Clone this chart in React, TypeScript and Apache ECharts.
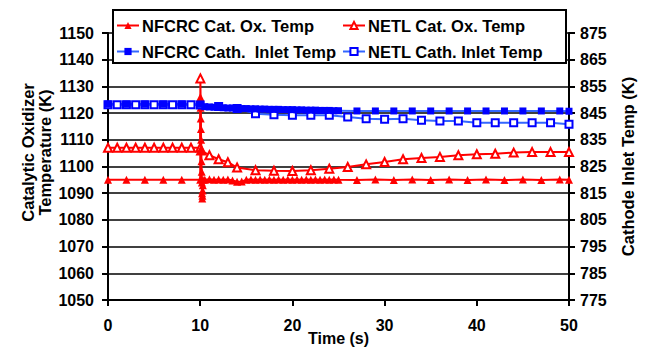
import React, { useEffect, useRef } from "react";
import * as echarts from "echarts";

const FONT = '"Liberation Sans", Arial, Helvetica, sans-serif';

// Tick settings (left: catalytic oxidizer, right: cathode inlet)
const timeTicks = { min: 0, max: 50, interval: 10 };
const catOxTicks = { min: 1050, max: 1150, interval: 10 };
const cathTicks = { min: 775, max: 875, interval: 10 };

const seriesNames = [
  "NFCRC Cat. Ox. Temp",
  "NETL Cat. Ox. Temp",
  "NFCRC Cath.  Inlet Temp",
  "NETL Cath. Inlet Temp",
];

// NFCRC catalytic oxidizer temperature [time s, K]
const nfcrcCatOx: [number, number][] = [
  [0, 1095], [2, 1095], [4, 1095], [6, 1095], [8, 1095], [10, 1095],
  [10.02, 1126], [10.04, 1122], [10.06, 1118], [10.08, 1114], [10.1, 1110],
  [10.12, 1106], [10.14, 1102], [10.16, 1098], [10.18, 1094], [10.2, 1090],
  [10.22, 1088], [10.24, 1089], [10.26, 1091], [10.28, 1093], [10.3, 1095],
  [10.5, 1095], [11, 1095.2], [11.5, 1095], [12, 1095.1], [12.5, 1095],
  [13, 1095.1], [13.5, 1094.8], [14, 1094.3], [14.5, 1094.4], [15, 1095],
  [15.5, 1095.1], [16, 1095], [16.5, 1095.1], [17, 1095], [17.5, 1095.1],
  [18, 1095], [18.5, 1095.1], [19, 1095], [19.5, 1095.1], [20, 1095],
  [20.5, 1095.1], [21, 1095], [21.5, 1095.1], [22, 1095], [22.5, 1095.1],
  [23, 1095], [23.5, 1095.1], [24, 1095], [24.5, 1095.1], [25, 1095],
  [27, 1094.9], [29, 1095.1], [31, 1094.9], [33, 1095.1], [35, 1094.9],
  [37, 1095.1], [39, 1094.9], [41, 1095.1], [43, 1094.9], [45, 1095.1],
  [47, 1094.9], [49, 1095.1], [50, 1095],
];

// NETL catalytic oxidizer temperature [time s, K]
const netlCatOx: [number, number][] = [
  [0, 1107], [1, 1107], [2, 1107], [3, 1107], [4, 1107], [5, 1107],
  [6, 1107], [7, 1107], [8, 1107], [9, 1107], [10, 1107], [10.02, 1133],
  [10.1, 1106], [11, 1104.2], [12, 1102.7], [13, 1101.6], [14, 1099.6],
  [16, 1098.6], [18, 1098.4], [20, 1098.3], [22, 1098.6], [24, 1099.2],
  [26, 1099.8], [28, 1100.8], [30, 1101.7], [32, 1102.7], [34, 1103.2],
  [36, 1103.6], [38, 1104.2], [40, 1104.6], [42, 1104.8], [44, 1105.2],
  [46, 1105.4], [48, 1105.4], [50, 1105.4],
];

// NFCRC cathode inlet temperature [time s, K]
const nfcrcCath: [number, number][] = [
  [0, 848.4], [2, 848.4], [4, 848.4], [6, 848.4], [8, 848.4], [10, 848.3],
  [10.5, 847.4], [11, 847.3], [11.5, 847.2], [12, 847.1], [12.5, 847.0],
  [13, 846.9], [13.5, 846.9], [14, 846.8], [14.5, 846.7], [15, 846.7],
  [15.5, 846.6], [16, 846.6], [16.5, 846.5], [17, 846.5], [17.5, 846.4],
  [18, 846.4], [18.5, 846.4], [19, 846.3], [19.5, 846.3], [20, 846.3],
  [20.5, 846.2], [21, 846.2], [21.5, 846.1], [22, 846.1], [22.5, 846.1],
  [23, 846.0], [23.5, 846.0], [24, 846.0], [24.5, 845.9], [25, 845.9],
  [27, 845.8], [29, 845.8], [31, 845.8], [33, 845.8], [35, 845.8],
  [37, 845.8], [39, 845.8], [41, 845.8], [43, 845.8], [45, 845.8],
  [47, 845.8], [49, 845.8], [50, 845.7],
];

// NETL cathode inlet temperature [time s, K]
const netlCath: [number, number][] = [
  [0, 848.1], [1, 848.1], [2, 848.1], [3, 848.1], [4, 848.1], [5, 848.1],
  [6, 848.1], [7, 848.1], [8, 848.1], [9, 848.1], [10, 848.0], [12, 847.5],
  [14, 846.7], [16, 844.8], [18, 844.4], [20, 844.2], [22, 844.2],
  [24, 844.2], [26, 843.5], [28, 842.9], [30, 842.7], [32, 842.9],
  [34, 842.3], [36, 842.0], [38, 842.0], [40, 841.4], [42, 841.4],
  [44, 841.4], [46, 841.4], [48, 841.4], [50, 840.8],
];

const RED = "#ff0000";
const BLUE_MARK = "#0000ff";
const BLUE_LINE = "#3366ff";

const tickText = { color: "#000", fontWeight: "bold" as const, fontSize: 16, fontFamily: FONT };
const titleText = { color: "#000", fontWeight: "bold" as const, fontSize: 16.5, fontFamily: FONT };

const plain = (v: number) => String(v);

export default function App() {
  const ref = useRef<HTMLDivElement>(null);

  useEffect(() => {
    if (!ref.current) return;
    const chart = echarts.init(ref.current, null, { renderer: "svg" });

    const axisLine = { show: true, lineStyle: { color: "#000", width: 2 } };
    const axisTick = { show: true, length: 6, lineStyle: { color: "#000", width: 2 } };

    const legendBase = {
      itemWidth: 22,
      itemHeight: 9,
      padding: 0,
      textStyle: { ...titleText, padding: [0, 0, 0, -2] },
      selectedMode: false,
    };

    chart.setOption({
      animation: false,
      backgroundColor: "#fff",
      grid: { left: 108, right: 80, top: 33, bottom: 48, outerBoundsMode: "none", containLabel: false },
      xAxis: {
        type: "value",
        ...timeTicks,
        name: "Time (s)",
        nameLocation: "middle",
        nameGap: 30,
        nameMoveOverlap: false,
        nameTextStyle: { ...titleText, fontSize: 16 },
        axisLine,
        axisTick,
        axisLabel: { ...tickText, margin: 17, formatter: plain },
        splitLine: { show: false },
      },
      yAxis: [
        {
          type: "value",
          ...catOxTicks,
          position: "left",
          name: "Catalytic Oxidizer\nTemperature (K)",
          nameLocation: "middle",
          nameRotate: 90,
          nameGap: 55,
          nameMoveOverlap: false,
          nameTextStyle: { ...titleText, lineHeight: 17, padding: [0, 0, 0, 28] },
          axisLine,
          axisTick,
          axisLabel: { ...tickText, margin: 14, formatter: plain },
          splitLine: { show: true, lineStyle: { color: "#000", width: 1.5 } },
        },
        {
          type: "value",
          ...cathTicks,
          position: "right",
          name: "Cathode Inlet Temp (K)",
          nameLocation: "middle",
          nameRotate: 90,
          nameGap: 50,
          nameMoveOverlap: false,
          nameTextStyle: titleText,
          axisLine,
          axisTick,
          axisLabel: { ...tickText, margin: 11, formatter: plain },
          splitLine: { show: false },
        },
      ],
      legend: [
        { ...legendBase, data: [seriesNames[0]], left: 116, top: 17 },
        { ...legendBase, data: [seriesNames[1]], left: 342, top: 17 },
        { ...legendBase, data: [seriesNames[2]], left: 116, top: 43 },
        { ...legendBase, data: [seriesNames[3]], left: 342, top: 43 },
      ],
      graphic: [
        {
          type: "rect",
          z: 3,
          shape: { x: 113, y: 10, width: 453, height: 53 },
          style: { fill: "#fff", stroke: "#000", lineWidth: 2 },
        },
      ],
      series: [
        {
          name: seriesNames[1],
          type: "line",
          yAxisIndex: 0,
          data: netlCatOx,
          symbol: "emptyTriangle",
          symbolSize: 8,
          showAllSymbol: true,
          lineStyle: { color: RED, width: 2 },
          itemStyle: { color: RED, borderColor: RED, borderWidth: 1.5 },
        },
        {
          name: seriesNames[0],
          type: "line",
          yAxisIndex: 0,
          data: nfcrcCatOx,
          symbol: "triangle",
          symbolSize: 8,
          showAllSymbol: true,
          lineStyle: { color: RED, width: 2 },
          itemStyle: { color: RED },
        },
        {
          name: seriesNames[3],
          type: "line",
          yAxisIndex: 1,
          data: netlCath,
          symbol: "emptyRect",
          symbolSize: 7,
          showAllSymbol: true,
          lineStyle: { color: BLUE_LINE, width: 2 },
          itemStyle: { color: BLUE_MARK, borderColor: BLUE_MARK, borderWidth: 1.5 },
        },
        {
          name: seriesNames[2],
          type: "line",
          yAxisIndex: 1,
          data: nfcrcCath,
          symbol: "rect",
          symbolSize: 7,
          showAllSymbol: true,
          lineStyle: { color: BLUE_LINE, width: 2 },
          itemStyle: { color: BLUE_MARK },
        },
      ],
    });

    return () => chart.dispose();
  }, []);

  return (
    <div
      ref={ref}
      style={{ position: "fixed", left: 0, top: 0, width: 649, height: 348, background: "#fff" }}
    />
  );
}
